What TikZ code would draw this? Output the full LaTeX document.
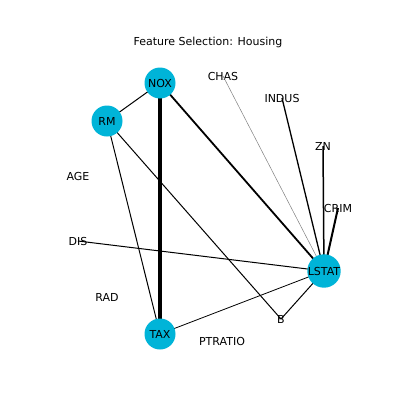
\documentclass[tikz,border=0pt]{standalone}
\usepackage{fontspec}
\setmainfont{DejaVu Sans}
\definecolor{nodecyan}{RGB}{0,180,216}
\begin{document}
\begin{tikzpicture}[x=1pt,y=-1pt,
  feat/.style={circle,fill=nodecyan,minimum size=31pt,inner sep=0pt,font=\fontsize{11}{11}\selectfont},
  lbl/.style={inner sep=0pt,font=\fontsize{11}{11}\selectfont},
  edge/.style={draw=black,line width=1pt}]
\useasboundingbox (0,0) rectangle (407,407);
\fill[white] (0,0) rectangle (407,407);
\node[font=\fontsize{11}{11}\selectfont] (title) at (208,42) {Feature Selection: Housing};
% coordinates
\coordinate (pNOX) at (160,83);
\coordinate (pRM) at (107,121);
\coordinate (pTAX) at (160,334);
\coordinate (pLSTAT) at (324,271);
% unselected labels
\node[lbl] (CHAS) at (223,76) {CHAS};
\node[lbl] (INDUS) at (282,98) {INDUS};
\node[lbl] (ZN) at (323,146) {ZN};
\node[lbl] (CRIM) at (338,208) {CRIM};
\node[lbl] (AGE) at (78,176) {AGE};
\node[lbl] (DIS) at (78,241) {DIS};
\node[lbl] (RAD) at (107,297) {RAD};
\node[lbl] (B) at (281,319) {B};
\node[lbl] (PTRATIO) at (222,341) {PTRATIO};
% edges
\draw[edge] (pNOX) -- (pRM);
\draw[edge,line width=4pt] (pNOX) -- (pTAX);
\draw[edge,line width=1.8pt] (pNOX) -- (pLSTAT);
\draw[edge,draw=gray,line width=0.5pt] (CHAS.center) -- (pLSTAT);
\draw[edge,line width=1.3pt] (INDUS.center) -- (pLSTAT);
\draw[edge,line width=1.5pt] (ZN.center) -- (pLSTAT);
\draw[edge,line width=2pt] (CRIM.center) -- (pLSTAT);
\draw[edge] (DIS.center) -- (pLSTAT);
\draw[edge] (pRM) -- (pTAX);
\draw[edge] (pRM) -- (B.center);
\draw[edge] (B.center) -- (pLSTAT);
\draw[edge,line width=0.8pt] (pTAX) -- (pLSTAT);
% selected nodes
\node[feat] (NOX) at (pNOX) {NOX};
\node[feat] (RM) at (pRM) {RM};
\node[feat] (TAX) at (pTAX) {TAX};
\node[feat] (LSTAT) at (pLSTAT) {LSTAT};
\end{tikzpicture}
\end{document}
